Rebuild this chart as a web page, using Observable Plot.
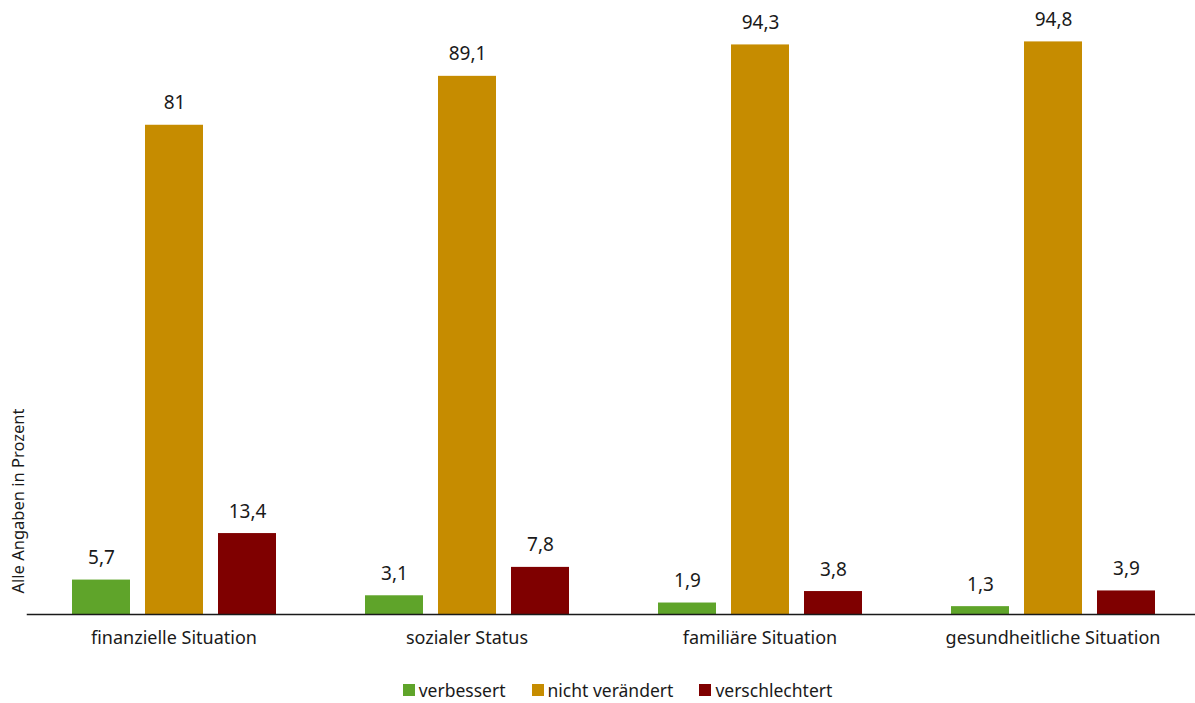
<!DOCTYPE html>
<html>
<head>
<meta charset="utf-8">
<script src="https://cdn.jsdelivr.net/npm/d3@7"></script>
<script src="https://cdn.jsdelivr.net/npm/@observablehq/plot@0.6"></script>
<style>
  html, body { margin: 0; padding: 0; background: #fff; overflow: hidden; }
  body { font-family: "Noto Sans", "Open Sans", sans-serif; color: #1a1a1a; }
  #chart svg { font-family: "Noto Sans", "Open Sans", sans-serif; overflow: visible; }
  #legend { display: flex; justify-content: center; align-items: center; gap: 26px; height: 60px; padding-left: 40px; font-size: 17.5px; }
  #legend .item { display: flex; align-items: center; gap: 4px; }
  #legend .sw { width: 12px; height: 12px; display: inline-block; }
</style>
</head>
<body>
<div id="chart"></div>
<div id="legend"></div>
<script>
const categories = ["finanzielle Situation", "sozialer Status", "familiäre Situation", "gesundheitliche Situation"];
const series = ["verbessert", "nicht verändert", "verschlechtert"];
const verbessert = [5.7, 3.1, 1.9, 1.3];
const nichtVeraendert = [81, 89.1, 94.3, 94.8];
const verschlechtert = [13.4, 7.8, 3.8, 3.9];
const colors = ["#5fa42a", "#c68c00", "#7f0000"];
const yLabel = "Alle Angaben in Prozent";

const seriesValues = [verbessert, nichtVeraendert, verschlechtert];
const data = categories.flatMap((cat, i) =>
  series.map((s, j) => ({cat, series: s, value: seriesValues[j][i]}))
);
const fmt = v => String(v).replace(".", ",");

const plot = Plot.plot({
  width: 1195,
  height: 660,
  marginTop: 10,
  marginBottom: 46,
  marginLeft: 26,
  marginRight: -5,
  style: {fontSize: "18px", color: "#1a1a1a"},
  fx: {domain: categories, paddingInner: 0, paddingOuter: 0, label: null, tickSize: 0, tickPadding: 17, axis: "bottom"},
  x: {domain: series, paddingInner: 0.21, paddingOuter: 0.6016, axis: null},
  y: {domain: [0, 100], axis: null},
  color: {domain: series, range: colors},
  marks: [
    Plot.barY(data, {fx: "cat", x: "series", y: "value", fill: "series"}),
    Plot.text(data, {fx: "cat", x: "series", y: "value", text: d => fmt(d.value), dy: -22, fontSize: 19, fill: "#1a1a1a"}),
    Plot.frame({facet: "super", anchor: "bottom", stroke: "#1a1a1a", strokeWidth: 1.5}),
    Plot.text([yLabel], {facet: "super", frameAnchor: "bottom-left", rotate: -90, textAnchor: "start", dx: -3.5, dy: -21, fontSize: 16.5, fill: "#1a1a1a"})
  ]
});
document.getElementById("chart").appendChild(plot);

const legend = d3.select("#legend");
series.forEach((s, i) => {
  const item = legend.append("div").attr("class", "item");
  item.append("span").attr("class", "sw").style("background", colors[i]);
  item.append("span").text(s);
});
</script>
</body>
</html>
